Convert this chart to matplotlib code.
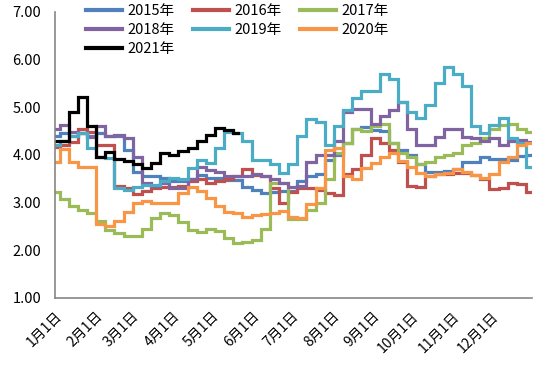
"""
Yearly comparison chart, weekly prices 2015-2021.
"""
import numpy as np
from matplotlib import pyplot as plt

plt.rcParams["font.family"] = ["Noto Sans CJK SC", "DejaVu Sans"]

# day of year of each weekly reading
DAYS = np.arange(0, 365, 7)

PRICE_2015 = [4.4, 4.45, 4.4, 4.45, 4.4, 4.45, 4.4, 4.4, 4.1, 3.65, 3.55, 3.55, 3.52,
              3.45, 3.45, 3.5, 3.58, 3.52, 3.52, 3.47, 3.47, 3.33, 3.27, 3.2, 3.22, 3.25,
              3.25, 3.45, 3.55, 3.6, 3.9, 4.0, 4.25, 4.55, 4.58, 4.52, 4.5, 4.25, 4.1,
              4.0, 3.8, 3.65, 3.65, 3.66, 3.7, 3.85, 3.85, 3.95, 3.92, 3.92, 3.9, 3.97, 4.0]
PRICE_2016 = [4.17, 4.2, 4.28, 4.55, 4.48, 4.2, 4.2, 3.35, 3.3, 3.17, 3.25, 3.3, 3.33,
              3.33, 3.35, 3.45, 3.5, 3.4, 3.45, 3.5, 3.55, 3.7, 3.58, 3.55, 3.3, 3.0,
              3.22, 3.3, 3.3, 3.27, 3.2, 3.15, 3.6, 3.7, 4.0, 4.35, 4.25, 4.1, 3.85,
              3.35, 3.33, 3.55, 3.6, 3.6, 3.62, 3.62, 3.58, 3.5, 3.28, 3.3, 3.4, 3.38, 3.22]
PRICE_2017 = [3.22, 3.08, 2.92, 2.85, 2.78, 2.62, 2.43, 2.36, 2.3, 2.3, 2.45, 2.68, 2.78,
              2.74, 2.6, 2.42, 2.38, 2.45, 2.4, 2.25, 2.15, 2.18, 2.22, 2.45, 3.4, 3.4,
              2.65, 2.65, 2.85, 3.0, 3.5, 4.04, 4.25, 4.55, 4.5, 4.6, 4.65, 4.25, 4.05,
              3.95, 3.8, 3.85, 3.95, 4.0, 4.05, 4.2, 4.25, 4.35, 4.55, 4.62, 4.65, 4.55, 4.48]
PRICE_2018 = [4.55, 4.62, 4.48, 4.45, 4.38, 4.6, 4.4, 4.42, 4.35, 3.95, 3.4, 3.35, 3.4,
              3.3, 3.3, 3.5, 3.75, 3.68, 3.65, 3.56, 3.55, 3.56, 3.6, 3.55, 3.5, 3.42,
              3.32, 3.35, 3.85, 4.0, 4.0, 4.3, 4.9, 4.97, 4.96, 4.65, 4.82, 4.95, 5.1,
              4.55, 4.2, 4.2, 4.38, 4.55, 4.55, 4.38, 4.35, 4.3, 4.35, 4.2, 4.3, 4.32, 4.28]
PRICE_2019 = [4.2, 4.3, 4.4, 4.45, 4.15, 3.95, 3.93, 3.3, 3.27, 3.33, 3.37, 3.37, 3.45,
              3.52, 3.5, 3.72, 3.9, 3.82, 4.15, 4.48, 4.45, 4.3, 3.9, 3.9, 3.8, 3.62,
              3.8, 4.4, 4.75, 4.7, 4.2, 4.6, 4.95, 5.2, 5.35, 5.35, 5.7, 5.6, 5.1,
              4.9, 4.78, 5.05, 5.5, 5.85, 5.7, 5.45, 4.6, 4.46, 4.62, 4.78, 4.35, 4.25, 3.75]
PRICE_2020 = [3.85, 4.12, 3.85, 3.75, 3.75, 2.55, 2.5, 2.62, 2.8, 3.0, 3.03, 3.0, 3.0,
              3.0, 3.2, 3.33, 3.25, 3.1, 2.92, 2.8, 2.78, 2.7, 2.73, 2.75, 2.78, 2.82,
              2.7, 2.68, 2.98, 3.3, 4.1, 4.15, 3.55, 3.5, 3.72, 3.82, 3.95, 4.05, 3.88,
              3.75, 3.62, 3.55, 3.6, 3.62, 3.7, 3.65, 3.58, 3.52, 3.6, 3.85, 3.95, 4.2, 4.25]
PRICE_2021 = [4.3, 4.3, 4.9, 5.22, 4.6, 3.95, 4.06, 3.92, 3.88, 3.8, 3.72, 3.82, 4.03,
              4.0, 4.08, 4.15, 4.3, 4.42, 4.57, 4.52, 4.45]

YEARS = ["2015年", "2016年", "2017年", "2018年", "2019年", "2020年", "2021年"]
COLORS = ["#4F81BD", "#C0504D", "#9BBB59", "#8064A2", "#4BACC6", "#F79646", "#000000"]

MONTH_DAYS = [0, 31, 59, 90, 120, 151, 181, 212, 243, 273, 304, 334]
MONTH_LABELS = [f"{m}月1日" for m in range(1, 13)]
Y_TICKS = [1, 2, 3, 4, 5, 6, 7]


def create_plot() -> None:
    """
    Draw all yearly lines and save the chart.
    """
    series = [PRICE_2015, PRICE_2016, PRICE_2017, PRICE_2018,
              PRICE_2019, PRICE_2020, PRICE_2021]
    fig = plt.figure(figsize=(5.5, 3.71), dpi=100)
    axes = fig.add_axes([0.1, 0.197, 0.867, 0.771])
    lines = {}
    for name, values, color in zip(YEARS, series, COLORS):
        (line,) = axes.plot(DAYS[:len(values)], values, color=color, linewidth=2.3,
                            drawstyle="steps-mid", solid_joinstyle="miter",
                            label=name)
        lines[name] = line

    axes.set_xlim(0, 365)
    axes.set_ylim(1, 7)
    axes.set_yticks(Y_TICKS)
    axes.set_yticklabels([f"{v:.2f}" for v in Y_TICKS])
    axes.set_xticks(MONTH_DAYS)
    axes.set_xticklabels(MONTH_LABELS, rotation=45, ha="right",
                         rotation_mode="anchor")
    axes.tick_params(axis="y", length=0, pad=10, labelsize=10.5)
    axes.tick_params(axis="x", length=0, pad=8, labelsize=10)
    for side in ("top", "right"):
        axes.spines[side].set_visible(False)
    for side in ("left", "bottom"):
        axes.spines[side].set_color("#868686")
        axes.spines[side].set_linewidth(1.2)

    # matplotlib fills legend columns first, reorder to get rows 2015-2017 etc.
    order = ["2015年", "2018年", "2021年", "2016年", "2019年", "2017年", "2020年"]
    legend = axes.legend([lines[n] for n in order], order, ncol=3, frameon=False,
                         loc="upper left", bbox_to_anchor=(0.043, 1.062),
                         fontsize=10.5, handlelength=2.5, handletextpad=0.35,
                         columnspacing=1.25, labelspacing=0.33, borderpad=0.2)
    for handle in legend.legend_handles:
        handle.set_linewidth(3.0)
    fig.savefig("out.png", dpi=100)


create_plot()
